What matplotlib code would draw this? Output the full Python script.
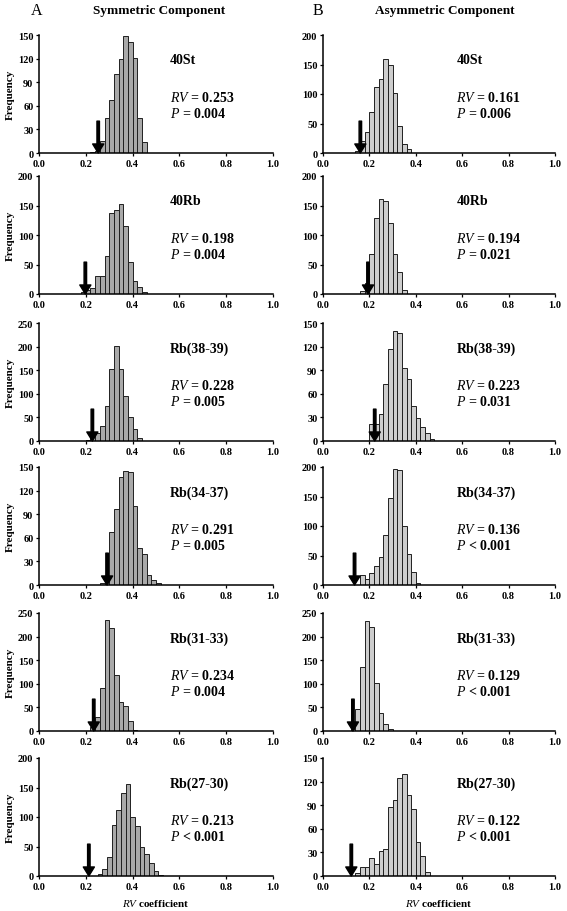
import numpy as np
import matplotlib
matplotlib.use("Agg")
import matplotlib.pyplot as plt

plt.rcParams["font.family"] = ["Liberation Serif", "DejaVu Serif"]
plt.rcParams["mathtext.fontset"] = "custom"
plt.rcParams["mathtext.it"] = "Liberation Serif:italic"
plt.rcParams["mathtext.rm"] = "Liberation Serif"

BIN = 0.02  # histogram bin width (RV units)

# --- data: permutation histograms (counts per 0.02 bin) ---
names = ["40St", "40Rb", "Rb(38-39)", "Rb(34-37)", "Rb(31-33)", "Rb(27-30)"]

# A: symmetric component
sym_rv = [0.253, 0.198, 0.228, 0.291, 0.234, 0.213]
sym_p = ["= 0.004", "= 0.004", "= 0.005", "= 0.005", "= 0.004", "< 0.001"]
sym_start = [0.22, 0.18, 0.20, 0.26, 0.22, 0.25]
sym_40st = [1, 3, 15, 45, 68, 101, 120, 149, 141, 121, 44, 14]
sym_40rb = [4, 6, 11, 30, 30, 64, 138, 142, 153, 115, 54, 22, 12, 4]
sym_38_39 = [3, 8, 17, 31, 75, 152, 202, 153, 95, 50, 25, 6]
sym_34_37 = [2, 8, 68, 97, 137, 145, 144, 100, 47, 40, 13, 6, 2]
sym_31_33 = [8, 30, 92, 235, 218, 119, 62, 53, 21, 3]
sym_27_30 = [3, 12, 32, 86, 112, 140, 156, 100, 85, 49, 37, 22, 8, 2]
sym_counts = [sym_40st, sym_40rb, sym_38_39, sym_34_37, sym_31_33, sym_27_30]
sym_ymax = [150, 200, 250, 150, 250, 200]
sym_ystep = [30, 50, 50, 30, 50, 50]

# B: asymmetric component
asym_rv = [0.161, 0.194, 0.223, 0.136, 0.129, 0.122]
asym_p = ["= 0.006", "= 0.021", "= 0.031", "< 0.001", "< 0.001", "< 0.001"]
asym_start = [0.14, 0.16, 0.20, 0.16, 0.12, 0.14]
asym_40st = [4, 21, 35, 70, 112, 126, 160, 150, 101, 46, 15, 6]
asym_40rb = [5, 19, 67, 128, 161, 157, 120, 67, 37, 6]
asym_38_39 = [22, 22, 34, 72, 117, 140, 137, 93, 79, 44, 29, 18, 10, 3]
asym_34_37 = [17, 10, 20, 33, 47, 84, 147, 197, 195, 100, 52, 22, 3]
asym_31_33 = [4, 47, 135, 234, 220, 101, 39, 14, 5]
asym_27_30 = [4, 11, 12, 23, 15, 32, 34, 88, 97, 125, 130, 103, 85, 43, 26, 5]
asym_counts = [asym_40st, asym_40rb, asym_38_39, asym_34_37, asym_31_33, asym_27_30]
asym_ymax = [200, 200, 150, 200, 250, 150]
asym_ystep = [50, 50, 30, 50, 50, 30]

W, H = 567, 912
fig = plt.figure(figsize=(W / 100, H / 100), dpi=100)

row_bottom = [154, 295, 442, 586, 732, 877]   # px from top of figure
row_h = 118
col_left = [39, 323]
col_w = [234, 232]
bar_color = ["#a9a9a9", "#cdcdcd"]


def panel(ax, counts, start, ymax, ystep, name, rv, p, color, show_ylabel, tx):
    x = start + BIN * (np.arange(len(counts)) + 0.5)
    ax.bar(x, counts, width=BIN, color=color, edgecolor="#202020", linewidth=0.7)
    ax.set_xlim(0, 1.0)
    ax.set_ylim(0, ymax)
    ax.set_xticks(np.arange(0, 1.01, 0.2))
    ax.set_xticklabels([f"{v:.1f}" for v in np.arange(0, 1.01, 0.2)])
    ax.set_yticks(np.arange(0, ymax + 1, ystep))
    for s in ("top", "right"):
        ax.spines[s].set_visible(False)
    for s in ("left", "bottom"):
        ax.spines[s].set_linewidth(1.1)
    ax.tick_params(axis="both", labelsize=7.5, length=2.5, width=0.9, pad=1.5)
    for lab in ax.get_xticklabels() + ax.get_yticklabels():
        lab.set_fontweight("bold")
    if show_ylabel:
        ax.set_ylabel("Frequency", fontsize=8, fontweight="bold", labelpad=2)
    # observed RV marker
    ax.annotate("", xy=(rv, 0.0), xycoords=("data", "axes fraction"),
                xytext=(rv, 0.27), textcoords=("data", "axes fraction"),
                arrowprops=dict(facecolor="black", edgecolor="black", width=1.8,
                                headwidth=8, headlength=6.5, shrink=0))
    ax.text(tx, 0.79, name, transform=ax.transAxes, fontsize=10,
            fontweight="bold", va="center", ha="left")
    ax.text(tx, 0.475, f"$RV$ = {rv:.3f}", transform=ax.transAxes, fontsize=10,
            fontweight="bold", va="center", ha="left")
    ax.text(tx, 0.335, f"$P$ {p}", transform=ax.transAxes, fontsize=10,
            fontweight="bold", va="center", ha="left")


groups = [
    (sym_counts, sym_start, sym_ymax, sym_ystep, sym_rv, sym_p),
    (asym_counts, asym_start, asym_ymax, asym_ystep, asym_rv, asym_p),
]
text_x = [0.56, 0.575]

for c, (counts, starts, ymaxs, ysteps, rvs, ps) in enumerate(groups):
    for r in range(6):
        ax = fig.add_axes([col_left[c] / W, (H - row_bottom[r]) / H,
                           col_w[c] / W, row_h / H])
        panel(ax, counts[r], starts[r], ymaxs[r], ysteps[r], names[r],
              rvs[r], ps[r], bar_color[c], c == 0, text_x[c])
    xc = (col_left[c] + col_w[c] / 2) / W
    fig.text(xc, 1 - 904 / H, "$RV$ coefficient", fontsize=8,
             fontweight="bold", ha="center", va="center")

fig.text(31 / W, 1 - 11 / H, "A", fontsize=11.5, ha="left", va="center")
fig.text(159 / W, 1 - 11 / H, "Symmetric Component", fontsize=9.5,
         fontweight="bold", ha="center", va="center")
fig.text(313 / W, 1 - 11 / H, "B", fontsize=11.5, ha="left", va="center")
fig.text(445 / W, 1 - 11 / H, "Asymmetric Component", fontsize=9.5,
         fontweight="bold", ha="center", va="center")

fig.savefig("out.png", dpi=100)
